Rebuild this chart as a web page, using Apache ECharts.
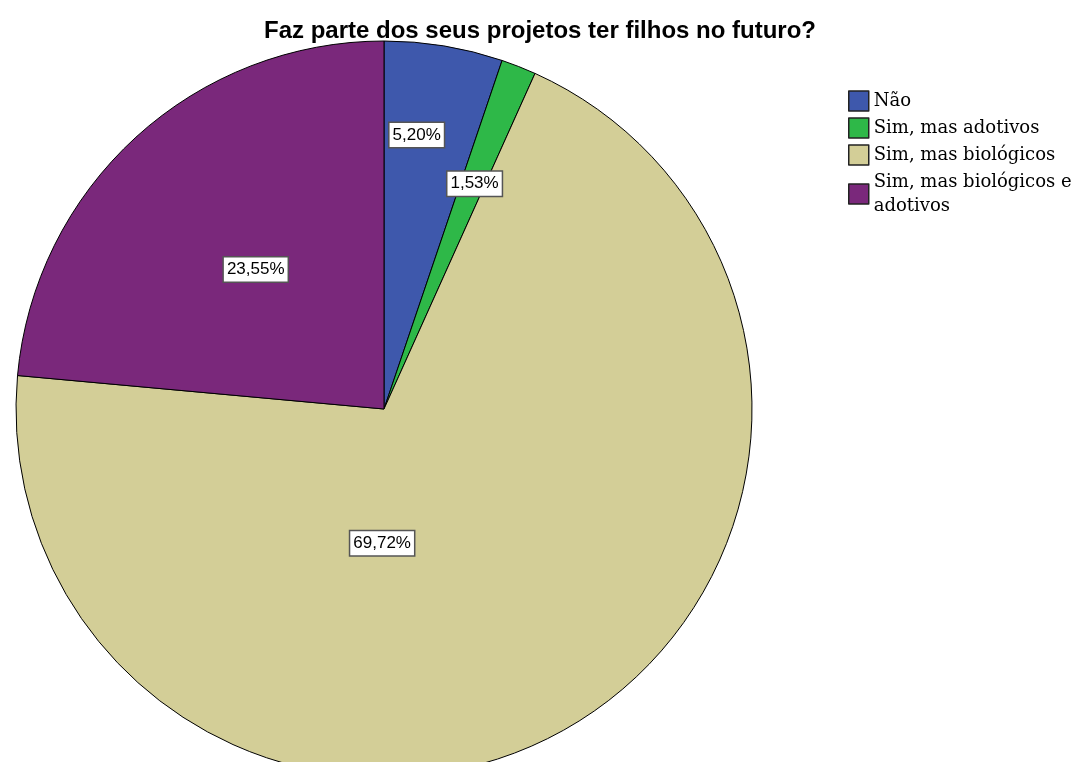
<!DOCTYPE html>
<html>
<head>
<meta charset="utf-8">
<script src="https://cdn.jsdelivr.net/npm/echarts@6/dist/echarts.min.js"></script>
<style>html,body{margin:0;padding:0;background:#fff}#c{width:1078px;height:762px}</style>
</head>
<body>
<div id="c"></div>
<script>
const categories = ['Não', 'Sim, mas adotivos', 'Sim, mas biológicos', 'Sim, mas biológicos e adotivos'];
const percents = [5.20, 1.53, 69.72, 23.55];
const colors = ['#3e58ac', '#2eb848', '#d3ce97', '#7a287b'];
// label placement: [angle from 12 o'clock clockwise in degrees, fraction of radius]
const labelPolar = [[6.8, 0.75], [21.9, 0.66], [180.8, 0.365], [317.4, 0.515]];

const CX = 384, CY = 409, R = 368;
const chart = echarts.init(document.getElementById('c'));
chart.setOption({
  animation: false,
  title: {
    text: 'Faz parte dos seus projetos ter filhos no futuro?',
    left: 535, top: 14, textAlign: 'center',
    textStyle: {fontFamily: 'Liberation Sans, Arial', fontWeight: 'bold', fontSize: 24, color: '#000'}
  },
  legend: {
    orient: 'vertical', left: 843, top: 84,
    itemWidth: 20, itemHeight: 20, itemGap: 3, itemStyle: {borderColor: '#222', borderWidth: 1.5},
    icon: 'rect',
    formatter: n => n === 'Sim, mas biológicos e adotivos' ? 'Sim, mas biológicos e\nadotivos' : n,
    textStyle: {fontFamily: 'DejaVu Serif', fontSize: 18, color: '#000', lineHeight: 24}
  },
  series: [{
    type: 'pie',
    center: [CX, CY], radius: R,
    startAngle: 90, clockwise: true,
    itemStyle: {borderColor: '#000', borderWidth: 1},
    emphasis: {disabled: true},
    label: {
      show: true, position: 'inside',
      formatter: p => p.value.toFixed(2).replace('.', ',') + '%',
      fontFamily: 'Liberation Sans, Arial', fontSize: 17, color: '#000',
      backgroundColor: '#fff', borderColor: '#555', borderWidth: 1.5,
      padding: [4, 3, 3, 3]
    },
    labelLayout: p => {
      const lp = labelPolar[p.dataIndex];
      const a = lp[0] * Math.PI / 180;
      return {x: CX + Math.sin(a) * R * lp[1], y: CY - Math.cos(a) * R * lp[1], align: 'center', verticalAlign: 'middle'};
    },
    data: categories.map((c, i) => ({name: c, value: percents[i], itemStyle: {color: colors[i]}}))
  }]
});
</script>
</body>
</html>
